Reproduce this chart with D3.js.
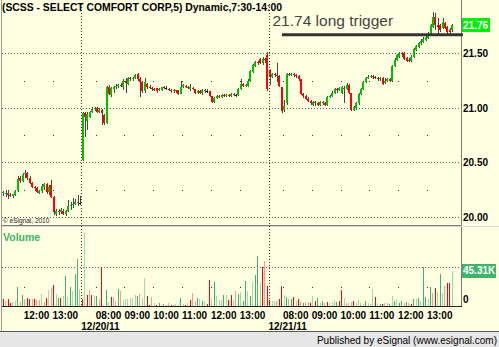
<!DOCTYPE html>
<html>
<head>
<meta charset="utf-8">
<script src="https://cdn.jsdelivr.net/npm/d3@7"></script>
<style>
  body { margin: 0; background: #fff; }
  svg text { font-family: "Liberation Sans", Arial, sans-serif; }
</style>
</head>
<body>
<div id="chart"></div>
<script>
// SCSS 5 minute bars, three sessions: [open, high, low, close]
const day1Bars = [
  [20.22,20.24,20.19,20.23],[20.21,20.25,20.18,20.22],[20.22,20.25,20.16,20.20],[20.20,20.22,20.18,20.19],
  [20.19,20.21,20.17,20.21],[20.20,20.25,20.19,20.24],[20.24,20.37,20.23,20.35],[20.36,20.37,20.31,20.33],
  [20.33,20.40,20.32,20.38],[20.39,20.43,20.36,20.40],[20.40,20.41,20.34,20.36],[20.36,20.37,20.30,20.31],
  [20.31,20.32,20.26,20.27],[20.27,20.28,20.24,20.26],[20.26,20.27,20.22,20.23],[20.22,20.25,20.21,20.24],
  [20.24,20.30,20.22,20.28],[20.27,20.31,20.25,20.30],[20.30,20.31,20.21,20.23],[20.23,20.29,20.20,20.27],
  [20.29,20.34,20.17,20.18],[20.18,20.19,20.02,20.04],[20.03,20.07,20.01,20.05],[20.05,20.07,20.02,20.04],
  [20.04,20.08,20.03,20.06],[20.05,20.07,20.02,20.03],[20.03,20.06,20.01,20.05],[20.05,20.15,20.04,20.10],
  [20.10,20.14,20.06,20.11],[20.11,20.17,20.08,20.12],[20.12,20.16,20.11,20.14],[20.14,20.20,20.10,20.13],
  [20.13,20.19,20.11,20.13]
];
const day2Bars = [
  [20.52,20.96,20.51,20.95],[20.95,20.96,20.73,20.92],[20.88,20.96,20.80,20.94],[20.92,20.97,20.91,20.96],
  [20.96,21.01,20.95,20.99],[20.99,21.01,20.97,21.00],[21.00,21.01,20.95,20.96],[20.96,21.00,20.95,20.98],
  [20.98,20.99,20.84,20.95],[20.93,20.94,20.84,20.86],[20.86,21.20,20.85,21.19],[21.19,21.21,21.12,21.13],
  [21.12,21.19,21.10,21.18],[21.17,21.20,21.14,21.19],[21.19,21.22,21.17,21.20],[21.20,21.22,21.18,21.21],
  [21.21,21.23,21.19,21.20],[21.19,21.26,21.16,21.25],[21.25,21.27,21.14,21.23],[21.22,21.28,21.21,21.27],
  [21.27,21.28,21.25,21.26],[21.26,21.28,21.25,21.27],[21.27,21.31,21.26,21.30],[21.31,21.32,21.25,21.26],
  [21.26,21.28,21.10,21.24],[21.24,21.25,21.14,21.15],[21.15,21.27,21.14,21.24],[21.22,21.23,21.17,21.19],
  [21.19,21.21,21.17,21.18],[21.18,21.19,21.15,21.17],[21.17,21.18,21.15,21.16],[21.18,21.18,21.14,21.15],
  [21.16,21.18,21.15,21.17],[21.16,21.19,21.15,21.19],[21.19,21.20,21.17,21.18],[21.18,21.20,21.16,21.18],
  [21.17,21.18,21.15,21.16],[21.16,21.17,21.14,21.15],[21.15,21.17,21.14,21.16],[21.16,21.16,21.14,21.15],
  [21.16,21.16,21.12,21.13],[21.13,21.25,21.13,21.19],[21.19,21.22,21.18,21.21],[21.20,21.21,21.18,21.19],
  [21.19,21.20,21.17,21.18],[21.17,21.22,21.15,21.19],[21.18,21.19,21.16,21.17],[21.17,21.17,21.13,21.14],
  [21.14,21.16,21.13,21.15],[21.15,21.16,21.13,21.14],[21.14,21.17,21.12,21.16],[21.16,21.17,21.14,21.15],
  [21.15,21.17,21.14,21.15],[21.15,21.15,21.10,21.11],[21.11,21.11,21.04,21.05],[21.05,21.10,21.04,21.09],
  [21.09,21.12,21.08,21.11],[21.11,21.12,21.09,21.10],[21.10,21.13,21.09,21.12],[21.12,21.13,21.10,21.11],
  [21.11,21.13,21.10,21.12],[21.12,21.13,21.10,21.11],[21.11,21.14,21.10,21.13],[21.13,21.14,21.11,21.12],
  [21.12,21.13,21.10,21.12],[21.12,21.18,21.11,21.17],[21.17,21.26,21.16,21.22],[21.22,21.23,21.19,21.20],
  [21.20,21.22,21.19,21.21],[21.20,21.26,21.19,21.25],[21.25,21.35,21.24,21.34],[21.33,21.40,21.32,21.39],
  [21.38,21.43,21.37,21.42],[21.42,21.43,21.39,21.41],[21.45,21.46,21.40,21.41],[21.41,21.47,21.39,21.45],
  [21.45,21.46,21.41,21.44],[21.48,21.51,21.15,21.17]
];
const day3Bars = [
  [21.35,21.36,21.21,21.28],[21.28,21.32,21.27,21.31],[21.31,21.32,21.28,21.30],[21.30,21.41,21.24,21.29],
  [21.29,21.30,21.19,21.20],[21.19,21.19,20.95,20.97],[20.98,21.07,20.96,21.02],[21.04,21.32,21.03,21.31],
  [21.31,21.32,21.29,21.30],[21.30,21.32,21.29,21.31],[21.31,21.32,21.28,21.30],[21.30,21.31,21.27,21.29],
  [21.29,21.30,21.25,21.26],[21.26,21.26,21.12,21.13],[21.13,21.14,21.09,21.11],[21.11,21.12,21.07,21.08],
  [21.08,21.10,21.05,21.06],[21.06,21.07,21.03,21.04],[21.03,21.06,21.02,21.05],[21.05,21.06,21.02,21.04],
  [21.04,21.05,21.02,21.03],[21.03,21.06,21.02,21.05],[21.05,21.06,21.03,21.04],[21.04,21.05,21.02,21.03],
  [21.03,21.11,21.02,21.10],[21.10,21.12,21.09,21.11],[21.11,21.15,21.10,21.14],[21.14,21.18,21.13,21.17],
  [21.17,21.18,21.14,21.16],[21.16,21.19,21.15,21.18],[21.14,21.20,21.13,21.19],[21.18,21.20,21.04,21.17],
  [21.17,21.23,21.16,21.21],[21.21,21.22,21.13,21.14],[21.14,21.14,20.97,20.98],[20.98,21.02,20.97,21.01],
  [21.00,21.05,20.98,21.04],[21.04,21.14,21.03,21.13],[21.13,21.18,21.12,21.17],[21.17,21.25,21.16,21.24],
  [21.24,21.28,21.23,21.27],[21.27,21.30,21.26,21.28],[21.28,21.30,21.27,21.29],[21.29,21.30,21.26,21.28],
  [21.28,21.29,21.26,21.27],[21.27,21.28,21.25,21.26],[21.26,21.28,21.25,21.27],[21.27,21.28,21.21,21.22],
  [21.23,21.27,21.22,21.25],[21.25,21.27,21.24,21.26],[21.26,21.27,21.24,21.25],[21.25,21.39,21.24,21.38],
  [21.38,21.46,21.37,21.44],[21.44,21.49,21.43,21.48],[21.47,21.51,21.46,21.50],[21.50,21.51,21.47,21.49],
  [21.50,21.51,21.44,21.45],[21.46,21.47,21.42,21.43],[21.44,21.46,21.42,21.43],[21.43,21.48,21.42,21.47],
  [21.47,21.55,21.46,21.54],[21.53,21.58,21.52,21.57],[21.56,21.60,21.55,21.59],[21.59,21.63,21.58,21.61],
  [21.60,21.65,21.59,21.63],[21.62,21.66,21.61,21.65],[21.64,21.70,21.63,21.68],[21.67,21.77,21.66,21.76],
  [21.74,21.88,21.73,21.83],[21.83,21.87,21.71,21.76],[21.76,21.82,21.67,21.74],[21.76,21.77,21.70,21.71],
  [21.73,21.82,21.72,21.79],[21.78,21.79,21.72,21.73],[21.74,21.75,21.68,21.70],[21.71,21.73,21.67,21.70],
  [21.71,21.77,21.70,21.76]
];

// volume per bar, thousands of shares
const day1Vol = [9.4,6.0,9.0,3.9,5.1,6.4,24.4,5.1,14.1,8.6,10.7,9.4,9.0,8.6,7.3,7.3,15.0,5.5,9.9,20.2,23.5,27.0,15.0,10.7,10.7,12.8,38.5,11.9,24.4,19.3,40.7,59.9,21.4];
const day2Vol = [9.0,93.7,14.5,20.9,14.5,13.2,12.4,9.0,49.7,1.7,20.9,5.1,11.6,11.2,6.0,22.2,18.9,8.1,9.0,9.0,
  10.3,10.3,14.5,13.2,15.4,10.3,35.9,12.4,1.7,11.6,3.5,1.7,3.9,0.9,2.6,1.7,3.9,0.9,1.7,2.6,
  1.7,10.3,2.6,0.9,3.9,8.1,16.7,6.0,10.3,9.4,6.8,6.0,2.6,33.8,10.3,30.8,12.4,8.1,8.1,14.5,
  14.5,8.1,14.5,8.1,18.9,15.4,18.0,6.8,32.5,18.9,12.4,30.8,40.2,63.8,30.8,49.7,58.1,25.3];
const day3Vol = [8.1,6.8,6.8,6.0,9.4,25.3,14.5,11.2,9.4,9.0,11.6,6.8,9.0,5.1,3.5,5.1,5.1,3.9,12.8,6.8,
  10.3,3.9,6.8,3.9,5.1,3.9,5.1,8.1,5.1,6.0,20.9,10.3,3.9,3.9,5.1,6.8,3.9,8.1,3.9,2.6,
  6.0,3.9,2.6,21.8,11.6,3.9,2.6,2.6,3.9,3.9,2.6,12.4,6.8,9.4,3.9,6.0,3.9,5.1,3.9,2.6,
  9.4,9.4,10.3,6.8,49.7,11.2,9.4,24.0,16.7,23.1,18.0,41.1,16.7,25.3,29.5,29.5,45.31];
// volume bar tone: R red, r light red, G green, g light green
const day1Tone = 'RrRRggGrGrRRrRrrgrRgrRgGRgGgGgGGg';
const day2Tone = 'RgRrRgGrRgGgRrrGrggggggGrggRRrgRGgGrrRrggGrRgRrgGgGgRRgGgggGgRRgrGgGGgGgGGgRrR';
const day3Tone = 'RggrRRgGrGRgRrGrrRgRGgGrRgggGRRgrgrRggrgGgggRgGRrgGgGgGGrGrRGgGgGGgGrRgGgrRRg';

const sessionDates = ['12/19/11', '12/20/11', '12/21/11'];
const sessionStart = ['11:15', '07:30', '07:30'];
const priceTicks = [20.00, 20.50, 21.00, 21.50];
const priceDotLevels = [20.25, 20.75, 21.25];
const lastPrice = 21.76;
const lastVolume = 45.31;
const triggerText = '21.74 long trigger';
const triggerLevel = 21.67;        // where the hand-drawn line sits
const triggerFromBar = 116.6;      // line runs from this bar position ...
const triggerToBar = 192;          // ... into the price scale

const W = 499, H = 347;
const BG = '#FFFFE1';
const UP = '#00C000', DOWN = '#FF0000';
const TONES = { R: '#FF0000', r: '#F49A9A', G: '#3DB36E', g: '#9ED9B0' };

// flatten sessions into one bar list
const sessions = [
  { bars: day1Bars, vol: day1Vol, tone: day1Tone },
  { bars: day2Bars, vol: day2Vol, tone: day2Tone },
  { bars: day3Bars, vol: day3Vol, tone: day3Tone }
];
let bars = [];
let dayStarts = [];
sessions.forEach((s, d) => {
  let [hh, mm] = sessionStart[d].split(':').map(Number);
  dayStarts.push({ i: bars.length, date: sessionDates[d] });
  s.bars.forEach((b, k) => {
    let m = hh * 60 + mm + 5 * k;
    bars.push({
      i: bars.length, day: d,
      o: b[0], h: b[1], l: b[2], c: b[3],
      v: s.vol[k], tone: s.tone[k],
      minute: m
    });
  });
});

const svg = d3.select('#chart').append('svg')
  .attr('width', W).attr('height', H)
  .style('display', 'block');

svg.append('rect').attr('width', W).attr('height', H).attr('fill', BG);

// scales
const x = d3.scaleBand().domain(d3.range(bars.length))
  .range([2.1, 2.1 + bars.length * 2.4]).padding(0);
const xPos = (v) => 2.1 + v * 2.4;
const y = d3.scaleLinear().domain([20, 21.5]).range([216.8, 53.3]);
const yv = d3.scaleLinear().domain([0, 100]).range([306, 228]);

const crisp = (v) => Math.round(v) + 0.5;

// footer
svg.append('rect').attr('x', 0).attr('y', 332).attr('width', W).attr('height', H - 332).attr('fill', '#E6E6E6');
svg.append('line').attr('x1', 0).attr('x2', W).attr('y1', 331.5).attr('y2', 331.5).attr('stroke', '#5a5a5a');
svg.append('text').attr('x', 497).attr('y', 344).attr('text-anchor', 'end')
  .attr('font-size', '10px').attr('fill', '#000')
  .text('Published by eSignal (www.esignal.com)');

// panel frames
const frame = svg.append('g').attr('shape-rendering', 'crispEdges').attr('fill', 'none');
frame.append('line').attr('x1', 1.5).attr('x2', 1.5).attr('y1', 0).attr('y2', 331).attr('stroke', '#9a9a9a');
frame.append('line').attr('x1', 461.5).attr('x2', 461.5).attr('y1', 0).attr('y2', 307).attr('stroke', '#7a7a7a');
frame.append('line').attr('x1', 2).attr('x2', 462).attr('y1', 225.5).attr('y2', 225.5).attr('stroke', '#7a7a7a');
frame.append('line').attr('x1', 2).attr('x2', 499).attr('y1', 226.5).attr('y2', 226.5).attr('stroke', '#d8d8d8');
frame.append('line').attr('x1', 2).attr('x2', 462).attr('y1', 306.5).attr('y2', 306.5).attr('stroke', '#222');

// grid
const grid = svg.append('g').attr('shape-rendering', 'crispEdges');
grid.selectAll('line.h').data(priceTicks).join('line')
  .attr('x1', 2).attr('x2', 461)
  .attr('y1', (d) => crisp(y(d))).attr('y2', (d) => crisp(y(d)))
  .attr('stroke', '#555').attr('stroke-dasharray', '1,2');
grid.append('line')
  .attr('x1', 2).attr('x2', 461)
  .attr('y1', crisp(yv(50))).attr('y2', crisp(yv(50)))
  .attr('stroke', '#555').attr('stroke-dasharray', '1,2');

grid.selectAll('line.day').data(dayStarts.slice(1)).join('line')
  .attr('x1', (d) => crisp(x(d.i))).attr('x2', (d) => crisp(x(d.i)))
  .attr('y1', 4).attr('y2', 306)
  .attr('stroke', '#333').attr('stroke-dasharray', '1,2');

const hourBars = bars.filter((b) => b.minute % 60 === 0);
hourBars.forEach((b) => {
  priceDotLevels.forEach((p) => {
    grid.append('rect').attr('x', Math.round(x(b.i))).attr('y', Math.round(y(p)))
      .attr('width', 1).attr('height', 1).attr('fill', '#333');
  });
  grid.append('rect').attr('x', Math.round(x(b.i))).attr('y', Math.round(yv(25)))
    .attr('width', 1).attr('height', 1).attr('fill', '#333');
});

// candles
const candles = svg.append('g').attr('shape-rendering', 'crispEdges');
candles.selectAll('line.wick').data(bars).join('line')
  .attr('x1', (d) => Math.round(x(d.i) + 1.2) + 0.5)
  .attr('x2', (d) => Math.round(x(d.i) + 1.2) + 0.5)
  .attr('y1', (d) => y(d.h)).attr('y2', (d) => y(d.l))
  .attr('stroke', '#444').attr('stroke-width', 1);
candles.selectAll('rect.body').data(bars).join('rect')
  .attr('x', (d) => Math.round(x(d.i) + 0.2))
  .attr('width', 2)
  .attr('y', (d) => y(Math.max(d.o, d.c)))
  .attr('height', (d) => Math.max(1, Math.abs(y(d.o) - y(d.c))))
  .attr('fill', (d) => d.c > d.o ? UP : d.c < d.o ? DOWN : '#000');

// volume
svg.append('g').attr('shape-rendering', 'crispEdges')
  .selectAll('rect').data(bars).join('rect')
  .attr('x', (d) => Math.round(x(d.i) + 0.6))
  .attr('width', 1.2)
  .attr('y', (d) => yv(d.v))
  .attr('height', (d) => yv(0) - yv(d.v))
  .attr('fill', (d) => TONES[d.tone]);

// trigger annotation
svg.append('line')
  .attr('x1', xPos(triggerFromBar)).attr('x2', xPos(triggerToBar))
  .attr('y1', y(triggerLevel)).attr('y2', y(triggerLevel))
  .attr('stroke', '#333').attr('stroke-width', 3);
svg.append('text').attr('x', 272.5).attr('y', 26)
  .attr('font-size', '15.5px').attr('fill', '#444')
  .text(triggerText);

// title and labels
svg.append('text').attr('x', 2).attr('y', 11)
  .attr('font-size', '11px').attr('font-weight', 'bold')
  .attr('textLength', 280).attr('lengthAdjust', 'spacingAndGlyphs')
  .text('(SCSS - SELECT COMFORT CORP,5) Dynamic,7:30-14:00');
svg.append('text').attr('x', 3).attr('y', 223)
  .attr('font-size', '6.5px').attr('fill', '#222')
  .text('\u00A9 eSignal, 2010');
svg.append('text').attr('x', 3).attr('y', 241)
  .attr('font-size', '10.5px').attr('font-weight', 'bold').attr('fill', '#3DB36E')
  .text('Volume');

// price axis
svg.append('g').selectAll('text').data(priceTicks).join('text')
  .attr('x', 463).attr('y', (d) => y(d) + 3.8)
  .attr('font-size', '10px').attr('font-weight', 'bold')
  .text((d) => d.toFixed(2));

svg.append('rect').attr('x', 462).attr('y', Math.round(y(lastPrice)) - 7)
  .attr('width', 28).attr('height', 14).attr('fill', '#00EE00');
svg.append('text').attr('x', 463).attr('y', y(lastPrice) + 3.8)
  .attr('font-size', '10px').attr('font-weight', 'bold').attr('fill', '#fff')
  .text(lastPrice.toFixed(2));

svg.append('rect').attr('x', 462).attr('y', Math.round(yv(lastVolume)) - 7)
  .attr('width', 34).attr('height', 14).attr('fill', '#3DB36E');
svg.append('text').attr('x', 463).attr('y', yv(lastVolume) + 3.8)
  .attr('font-size', '10px').attr('font-weight', 'bold').attr('fill', '#fff')
  .text(lastVolume.toFixed(2) + 'K');
svg.append('text').attr('x', 463).attr('y', 303)
  .attr('font-size', '10px').attr('font-weight', 'bold')
  .text('0');

// time axis
const pad = (n) => String(n).padStart(2, '0');
svg.append('g').selectAll('text').data(hourBars).join('text')
  .attr('x', (d) => x(d.i)).attr('y', 318.5)
  .attr('font-size', '10px').attr('font-weight', 'bold')
  .text((d) => pad(Math.floor(d.minute / 60)) + ':00');
svg.append('g').selectAll('text').data(dayStarts.slice(1)).join('text')
  .attr('x', (d) => x(d.i)).attr('y', 330)
  .attr('font-size', '10px').attr('font-weight', 'bold')
  .text((d) => d.date);
</script>
</body>
</html>
